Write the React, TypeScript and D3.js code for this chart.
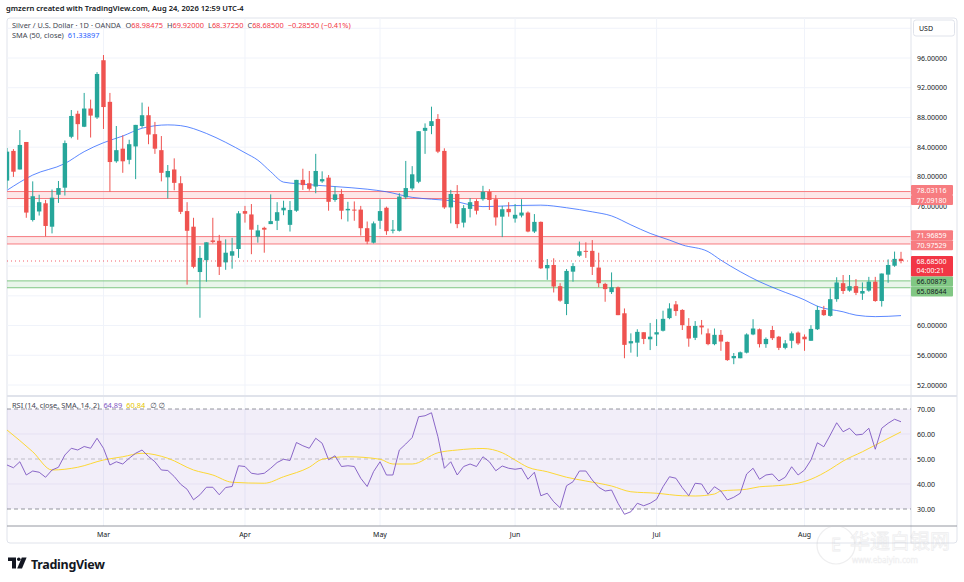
import { useEffect, useRef } from 'react';
import * as d3 from 'd3';

// Silver / USD daily, OANDA
const opens = [79.5, 83.5, 81.0, 84.7, 74.2, 75.35, 76.45, 73.3, 77.6, 78.55, 85.4, 88.5, 86.75, 89.2, 88.0, 95.7, 90.1, 82.1, 83.8, 82.3,
  84.1, 86.85, 88.3, 85.75, 83.6, 79.95, 81.0, 79.15, 75.4, 73.3, 67.2, 68.8, 71.45, 71.4, 68.5, 69.4, 70.3, 75.4, 74.95, 71.95,
  73.15, 73.65, 74.1, 75.5, 73.55, 75.45, 79.6, 79.15, 78.7, 79.4, 79.9, 76.9, 77.7, 75.5, 75.6, 75.6, 73.1, 71.15, 74.1, 75.85,
  72.8, 72.75, 77.25, 78.45, 79.35, 86.2, 86.85, 87.8, 83.5, 75.9, 77.7, 73.85, 75.7, 76.75, 77.0, 78.0, 77.0, 74.65, 75.7, 74.4,
  74.8, 75.2, 72.65, 73.95, 67.7, 68.15, 65.3, 62.9, 67.25, 69.4, 70.05, 70.05, 67.8, 65.6, 64.5, 65.15, 61.65, 57.6, 57.7, 59.1,
  58.15, 58.8, 59.3, 61.0, 62.85, 62.1, 59.95, 58.35, 60.0, 58.95, 57.5, 58.75, 57.8, 55.6, 55.6, 56.35, 58.8, 59.5, 57.5, 59.4,
  58.5, 57.0, 57.95, 59.05, 58.5, 57.95, 59.5, 62.1, 61.3, 63.55, 65.7, 64.7, 65.3, 64.3, 64.7, 65.9, 63.3, 66.85, 68.05, 68.98475];
const highs = [83.9, 83.75, 86.3, 84.7, 79.4, 77.6, 76.9, 78.3, 79.45, 84.9, 89.0, 88.9, 91.3, 90.4, 94.1, 96.4, 91.3, 86.85, 85.6, 85.0,
  87.0, 90.0, 89.45, 87.4, 85.5, 81.6, 82.5, 80.1, 76.6, 74.5, 70.7, 71.2, 74.5, 72.2, 71.6, 71.8, 75.4, 76.1, 76.35, 73.55,
  73.3, 77.65, 76.6, 76.8, 76.75, 79.6, 81.1, 80.8, 83.1, 80.75, 80.25, 78.7, 78.35, 76.65, 76.7, 76.1, 74.0, 74.0, 77.0, 76.0,
  74.2, 77.8, 82.15, 81.45, 86.15, 87.2, 89.45, 88.45, 83.85, 78.25, 78.9, 76.2, 77.15, 77.0, 78.8, 78.35, 77.55, 76.1, 76.6, 76.35,
  77.0, 75.35, 75.0, 74.0, 68.95, 69.05, 65.7, 67.6, 68.4, 71.3, 71.2, 71.5, 69.8, 65.75, 67.15, 65.25, 62.3, 58.95, 59.5, 59.1,
  60.35, 60.85, 62.0, 63.0, 63.3, 62.2, 61.0, 60.6, 60.75, 59.6, 59.6, 59.4, 57.85, 56.3, 56.5, 58.95, 60.85, 59.6, 58.4, 59.95,
  58.6, 58.05, 59.2, 59.2, 58.8, 60.05, 62.65, 62.65, 65.0, 66.5, 66.8, 66.8, 66.25, 65.8, 66.55, 66.55, 67.0, 68.9, 69.95, 69.92];
const lows = [78.4, 80.0, 81.0, 74.5, 74.0, 74.8, 72.0, 72.4, 76.5, 77.5, 85.2, 85.0, 86.7, 85.3, 87.8, 86.45, 78.0, 81.9, 80.55, 81.7,
  79.7, 86.6, 84.4, 83.1, 79.4, 77.1, 78.2, 75.0, 65.5, 67.7, 61.05, 65.9, 71.05, 66.8, 67.5, 67.65, 69.1, 73.85, 69.6, 71.15,
  69.8, 73.65, 72.85, 74.85, 72.65, 75.3, 78.25, 78.15, 77.8, 79.2, 75.45, 76.65, 74.3, 74.0, 74.1, 72.1, 70.95, 71.05, 73.0, 72.2,
  72.4, 72.65, 77.0, 78.2, 79.15, 83.1, 85.75, 83.2, 75.7, 73.75, 73.1, 73.2, 74.55, 74.95, 76.8, 75.55, 73.45, 71.9, 74.65, 73.85,
  74.55, 72.55, 72.45, 67.6, 66.15, 64.45, 63.2, 61.4, 65.9, 69.25, 69.1, 66.8, 65.15, 63.2, 64.25, 61.4, 55.6, 56.35, 55.8, 57.5,
  56.7, 57.25, 59.2, 60.85, 61.3, 59.4, 57.15, 58.05, 58.8, 57.35, 57.35, 56.6, 55.25, 54.8, 55.6, 56.25, 58.7, 57.05, 57.0, 58.05,
  56.7, 56.8, 56.95, 57.4, 56.6, 57.95, 59.4, 61.3, 61.2, 63.2, 64.25, 64.55, 64.1, 63.45, 64.55, 63.2, 62.55, 65.75, 67.9, 68.3725];
const closes = [83.4, 80.7, 84.3, 75.2, 77.4, 76.6, 73.4, 77.2, 78.5, 84.55, 88.2, 87.1, 89.2, 88.25, 93.85, 89.4, 82.0, 83.6, 82.1, 84.4,
  87.0, 88.3, 85.7, 83.8, 80.55, 80.8, 79.2, 75.3, 72.75, 67.9, 69.1, 71.2, 71.25, 67.9, 69.8, 70.0, 75.1, 75.05, 72.9, 72.8,
  72.9, 74.05, 75.25, 75.85, 75.55, 79.6, 78.9, 78.4, 80.8, 79.7, 76.65, 77.65, 75.45, 75.7, 75.5, 73.1, 71.3, 73.75, 75.4, 72.7,
  72.9, 77.35, 78.5, 80.35, 86.15, 86.6, 87.5, 83.4, 75.9, 77.7, 73.65, 75.8, 76.6, 75.45, 78.0, 76.9, 74.55, 75.65, 75.25, 74.9,
  75.2, 72.65, 73.95, 67.7, 68.15, 65.25, 63.35, 67.35, 68.0, 70.0, 69.95, 67.9, 65.7, 64.9, 65.15, 61.4, 57.4, 57.9, 59.15, 58.2,
  58.5, 59.1, 60.9, 62.3, 61.95, 60.05, 58.25, 59.95, 59.75, 57.5, 58.75, 57.85, 55.35, 55.9, 56.4, 58.8, 59.6, 57.5, 58.2, 58.3,
  57.0, 57.6, 58.95, 57.6, 58.15, 59.55, 62.1, 61.4, 63.55, 65.8, 64.65, 65.3, 64.4, 64.65, 65.9, 63.3, 67.0, 68.15, 68.9705, 68.685];

// SMA(50, close) read at these bars
const smaBars = [0, 4, 9, 12, 15, 18, 21, 25, 27, 31, 34, 37, 39, 41, 43, 45, 51, 56, 59, 63, 66, 69, 74, 79, 83, 87, 91, 94, 97, 100,
  103, 105, 109, 111, 114, 117, 120, 124, 126, 130, 132, 135, 139];
const smaValues = [78.2, 80.25, 81.8, 83.4, 84.6, 85.5, 86.55, 87.0, 86.9, 85.85, 84.65, 83.25, 82.25, 80.7, 79.3, 79.1, 78.7, 78.35, 78.0, 77.25,
  77.0, 76.8, 76.0, 76.15, 76.2, 75.85, 75.3, 74.75, 73.55, 72.4, 71.5, 70.85, 69.95, 68.8, 67.25, 65.9, 64.8, 63.45, 62.6, 61.85,
  61.4, 61.2, 61.33897];

const rsi = [47.6, 46.5, 48.9, 43.6, 45.2, 44.7, 42.7, 45.6, 46.7, 51.6, 54.3, 53.6, 55.0, 54.3, 58.3, 54.3, 47.6, 48.9, 48.0, 50.3,
  52.3, 53.6, 51.0, 48.9, 45.6, 45.4, 43.0, 39.9, 37.9, 33.7, 35.7, 38.7, 38.7, 35.7, 38.6, 39.0, 47.3, 47.0, 44.3, 43.9,
  44.3, 46.3, 48.6, 49.9, 49.4, 56.6, 55.3, 54.3, 58.3, 56.3, 49.7, 51.3, 47.0, 47.3, 47.0, 42.3, 39.0, 45.0, 48.9, 43.6,
  43.6, 53.6, 56.0, 58.6, 66.9, 67.3, 68.5, 58.9, 46.3, 48.9, 43.6, 47.0, 48.0, 47.0, 50.9, 48.9, 45.3, 47.2, 46.3, 45.9,
  46.3, 41.9, 44.7, 35.3, 36.3, 32.9, 30.5, 39.3, 40.9, 45.2, 45.2, 41.6, 38.7, 37.2, 37.6, 32.3, 27.9, 28.9, 32.3, 31.3,
  32.3, 33.9, 38.9, 42.9, 42.3, 38.5, 35.3, 40.3, 40.0, 35.9, 38.9, 37.2, 33.6, 34.7, 36.3, 44.0, 46.3, 41.9, 43.6, 44.0,
  41.2, 42.7, 46.9, 43.6, 45.6, 49.6, 56.5, 54.9, 59.6, 64.5, 60.9, 62.3, 59.6, 59.9, 62.3, 53.9, 62.3, 64.3, 65.9, 64.89];

// RSI-based SMA(14) read at these bars
const rsiSmaBars = [0, 4, 7, 11, 15, 18, 21, 25, 29, 32, 35, 40, 43, 47, 49, 53, 58, 60, 63, 67, 70, 74, 77, 79, 81, 84, 87, 90, 94, 97,
  101, 105, 107, 110, 111, 115, 117, 119, 123, 125, 128, 130, 133, 136, 139];
const rsiSmaValues = [61.6, 52.9, 45.6, 46.7, 49.6, 50.9, 52.3, 50.3, 45.6, 43.6, 40.7, 40.3, 42.9, 46.7, 49.9, 50.9, 49.9, 48.0, 48.0, 52.5,
  53.6, 54.2, 52.5, 49.6, 46.7, 44.9, 42.7, 41.2, 39.2, 36.9, 36.3, 35.3, 35.2, 36.0, 37.2, 37.9, 38.9, 39.2, 40.3, 41.9,
  45.9, 49.2, 52.9, 56.9, 60.84];

const priceTicks = [100, 96, 92, 88, 84, 80, 76, 72, 68, 64, 60, 56, 52];
const rsiTicks = [70, 60, 50, 40, 30];
const resistanceZones = [[78.03116, 77.09180], [71.96859, 70.97529]];
const supportZones = [[66.00879, 65.08644]];
const lastPrice = 68.685;
const countdown = '04:00:21';
const holidays = ['2026-04-03'];

const UP = '#26a69a', DOWN = '#ef5350';
const FONT = '"Noto Sans", "DejaVu Sans", sans-serif';

export default function App() {
  const svgRef = useRef<SVGSVGElement>(null);

  useEffect(() => {
    if (!svgRef.current) return;
    const svg = d3.select(svgRef.current);
    svg.selectAll('*').remove();

    const L = 7, T = 18, R = 957, B = 543, AX = 911;
    const paneBottom = 395, rsiTop = 397, rsiBottom = 526;

    // trading days Feb 9 – Aug 24 2026
    const days = d3.utcDay.range(new Date(Date.UTC(2026, 1, 9)), new Date(Date.UTC(2026, 7, 25)))
      .filter(d => d.getUTCDay() % 6 !== 0 && !holidays.includes(d3.utcFormat('%Y-%m-%d')(d)));
    const n = closes.length;

    const x = d3.scaleLinear().domain([0, n - 1]).range([7, 901]);
    const y = d3.scaleLinear().domain([52, 96]).range([385, 58]);
    const yr = d3.scaleLinear().domain([30, 70]).range([509, 409]);

    const monthStarts = days.map((d, i) => ({ d, i })).filter(({ d, i }) => i > 0 && d.getUTCMonth() !== days[i - 1].getUTCMonth());

    const defs = svg.append('defs');
    defs.append('clipPath').attr('id', 'pane').append('rect').attr('x', L).attr('y', T).attr('width', AX - L).attr('height', paneBottom - T);
    defs.append('clipPath').attr('id', 'rsiPane').append('rect').attr('x', L).attr('y', rsiTop).attr('width', AX - L).attr('height', rsiBottom - rsiTop);

    svg.append('rect').attr('width', 964).attr('height', 582).attr('fill', '#fff');

    // header
    svg.append('text').attr('x', 6).attr('y', 11).attr('font-family', FONT).attr('font-size', 7.6).attr('font-weight', 600)
      .attr('fill', '#131722').text('gmzern created with TradingView.com, Aug 24, 2026 12:59 UTC-4');

    svg.append('rect').attr('x', L).attr('y', T).attr('width', R - L).attr('height', B - T).attr('rx', 3)
      .attr('fill', '#fff').attr('stroke', '#e0e3eb');

    // grid
    const grid = svg.append('g').attr('stroke', '#f0f3fa').attr('stroke-width', 1);
    priceTicks.forEach(v => grid.append('line').attr('x1', L).attr('x2', AX).attr('y1', y(v)).attr('y2', y(v)));
    monthStarts.forEach(({ i }) => grid.append('line').attr('x1', x(i)).attr('x2', x(i)).attr('y1', T).attr('y2', rsiBottom));

    const pane = svg.append('g').attr('clip-path', 'url(#pane)');

    // zones
    const zone = (z: number[], line: string, fill: string) => {
      pane.append('rect').attr('x', L).attr('width', AX - L).attr('y', y(z[0])).attr('height', y(z[1]) - y(z[0])).attr('fill', fill);
      z.forEach(v => pane.append('line').attr('x1', L).attr('x2', AX).attr('y1', y(v)).attr('y2', y(v))
        .attr('stroke', line).attr('stroke-width', 1));
    };
    resistanceZones.forEach(z => zone(z, '#f77c80', 'rgba(242,54,69,0.12)'));
    supportZones.forEach(z => zone(z, '#81c784', 'rgba(76,175,80,0.12)'));

    // SMA 50
    const smaLine = d3.line<number>().x((_, k) => x(smaBars[k])).y(v => y(v)).curve(d3.curveMonotoneX);
    pane.append('path').datum(smaValues).attr('d', smaLine).attr('fill', 'none').attr('stroke', '#2962ff').attr('stroke-width', 0.9).attr('opacity', 0.85);

    // candles
    const bw = 4.4;
    d3.range(n).forEach(i => {
      const up = closes[i] >= opens[i];
      const c = up ? UP : DOWN;
      pane.append('line').attr('x1', x(i)).attr('x2', x(i)).attr('y1', y(highs[i])).attr('y2', y(lows[i]))
        .attr('stroke', c).attr('stroke-width', 1);
      const top = y(Math.max(opens[i], closes[i])), bot = y(Math.min(opens[i], closes[i]));
      pane.append('rect').attr('x', x(i) - bw / 2).attr('width', bw).attr('y', top).attr('height', Math.max(1, bot - top)).attr('fill', c);
    });

    // last price line
    pane.append('line').attr('x1', L).attr('x2', AX).attr('y1', y(lastPrice)).attr('y2', y(lastPrice))
      .attr('stroke', '#f23645').attr('stroke-width', 0.8).attr('stroke-dasharray', '1,3');

    // legend
    const leg = svg.append('text').attr('x', 12).attr('y', 28).attr('font-family', FONT).attr('font-size', 7.4).attr('fill', '#434651');
    leg.append('tspan').text('Silver / U.S. Dollar · 1D · OANDA');
    const ohlc = [['O', opens[n - 1]], ['H', highs[n - 1]], ['L', lows[n - 1]], ['C', closes[n - 1]]] as [string, number][];
    ohlc.forEach(([k, v], j) => {
      leg.append('tspan').attr('dx', j === 0 ? 5 : 4).text(k);
      leg.append('tspan').attr('fill', '#f23645').text(v.toFixed(5));
    });
    const chg = closes[n - 1] - closes[n - 2];
    const sign = chg < 0 ? '−' : '+';
    leg.append('tspan').attr('dx', 4).attr('fill', '#f23645')
      .text(`${sign}${Math.abs(chg).toFixed(5)} (${sign}${Math.abs(chg / closes[n - 2] * 100).toFixed(2)}%)`);
    const leg2 = svg.append('text').attr('x', 12).attr('y', 38).attr('font-family', FONT).attr('font-size', 7.4).attr('fill', '#434651');
    leg2.append('tspan').text('SMA (50, close)');
    leg2.append('tspan').attr('dx', 4).attr('fill', '#2962ff').text(smaValues[smaValues.length - 1].toFixed(5));

    // pane separator
    svg.append('line').attr('x1', L).attr('x2', R).attr('y1', 396).attr('y2', 396).attr('stroke', '#e0e3eb').attr('stroke-width', 2);

    // axis label boxes; the last-price box stays put, the others are pushed apart where they overlap
    type Box = { v: number; lines: string[]; fill: string; color: string; top: number; h: number; fixed: boolean };
    const boxes: Box[] = [];
    resistanceZones.flat().forEach(v => boxes.push({ v, lines: [v.toFixed(5)], fill: '#f77c80', color: '#fff', top: 0, h: 10, fixed: false }));
    supportZones.flat().forEach(v => boxes.push({ v, lines: [v.toFixed(5)], fill: '#81c784', color: '#131722', top: 0, h: 10, fixed: false }));
    boxes.push({ v: lastPrice, lines: [lastPrice.toFixed(5), countdown], fill: '#f23645', color: '#fff', top: 0, h: 20.5, fixed: true });
    boxes.forEach(b => { b.top = y(b.v) - 5; });
    boxes.sort((a, b) => a.top - b.top);
    for (let pass = 0; pass < 30; pass++) {
      for (let k = 1; k < boxes.length; k++) {
        const a = boxes[k - 1], b = boxes[k];
        const d = a.top + a.h - b.top;
        if (d <= 0) continue;
        if (a.fixed) b.top += d;
        else if (b.fixed) a.top -= d;
        else { a.top -= d / 2; b.top += d / 2; }
      }
    }

    // price axis (tick labels hidden where a box or the USD button sits on them)
    svg.append('line').attr('x1', AX).attr('x2', AX).attr('y1', T).attr('y2', B).attr('stroke', '#e0e3eb');
    const covered = (py: number) => py < 42 || boxes.some(b => Math.abs(py - (b.top + b.h / 2)) < b.h / 2 + 1);
    priceTicks.filter(v => !covered(y(v))).forEach(v => svg.append('text').attr('x', 917).attr('y', y(v)).attr('dominant-baseline', 'central')
      .attr('font-family', FONT).attr('font-size', 7).attr('fill', '#131722').text(v.toFixed(5)));
    svg.append('rect').attr('x', 913.5).attr('y', 20).attr('width', 41).attr('height', 16).attr('rx', 2.5)
      .attr('fill', '#fff').attr('stroke', '#e0e3eb');
    svg.append('text').attr('x', 919).attr('y', 28.5).attr('dominant-baseline', 'central').attr('font-family', FONT)
      .attr('font-size', 7).attr('fill', '#131722').text('USD');

    boxes.forEach(b => {
      svg.append('rect').attr('x', AX).attr('y', b.top).attr('width', 42).attr('height', b.h).attr('rx', 1).attr('fill', b.fill);
      b.lines.forEach((s, k) => svg.append('text').attr('x', 916.5).attr('y', b.top + 5 + k * 9.8).attr('dominant-baseline', 'central')
        .attr('font-family', FONT).attr('font-size', 7).attr('fill', b.color).text(s));
    });

    // RSI pane
    const rp = svg.append('g').attr('clip-path', 'url(#rsiPane)');
    rp.append('rect').attr('x', L).attr('width', AX - L).attr('y', yr(70)).attr('height', yr(30) - yr(70)).attr('fill', 'rgba(126,87,194,0.1)');
    [60, 40].forEach(v => rp.append('line').attr('x1', L).attr('x2', AX).attr('y1', yr(v)).attr('y2', yr(v)).attr('stroke', '#e6e1f3'));
    [70, 30].forEach(v => rp.append('line').attr('x1', L).attr('x2', AX).attr('y1', yr(v)).attr('y2', yr(v))
      .attr('stroke', '#787b86').attr('stroke-dasharray', '4,3').attr('stroke-width', 0.8));
    rp.append('line').attr('x1', L).attr('x2', AX).attr('y1', yr(50)).attr('y2', yr(50))
      .attr('stroke', 'rgba(120,123,134,0.55)').attr('stroke-dasharray', '4,3').attr('stroke-width', 0.8);
    const rsiSmaLine = d3.line<number>().x((_, k) => x(rsiSmaBars[k])).y(v => yr(v)).curve(d3.curveMonotoneX);
    rp.append('path').datum(rsiSmaValues).attr('d', rsiSmaLine).attr('fill', 'none').attr('stroke', '#fdd835').attr('stroke-width', 1);
    const rsiLine = d3.line<number>().x((_, i) => x(i)).y(v => yr(v));
    rp.append('path').datum(rsi).attr('d', rsiLine).attr('fill', 'none').attr('stroke', '#7e57c2').attr('stroke-width', 0.9);

    const rl = svg.append('text').attr('x', 12).attr('y', 408).attr('font-family', FONT).attr('font-size', 7.4).attr('fill', '#434651');
    rl.append('tspan').text('RSI (14, close, SMA, 14, 2)');
    rl.append('tspan').attr('dx', 4).attr('fill', '#7e57c2').text(rsi[n - 1].toFixed(2));
    rl.append('tspan').attr('dx', 4).attr('fill', '#e5c400').text(rsiSmaValues[rsiSmaValues.length - 1].toFixed(2));
    rl.append('tspan').attr('dx', 5).text('∅  ∅');

    rsiTicks.forEach(v => svg.append('text').attr('x', 917).attr('y', yr(v)).attr('dominant-baseline', 'central')
      .attr('font-family', FONT).attr('font-size', 7).attr('fill', '#131722').text(v.toFixed(2)));

    // time axis
    svg.append('line').attr('x1', L).attr('x2', R).attr('y1', rsiBottom).attr('y2', rsiBottom).attr('stroke', '#9598a1');
    monthStarts.forEach(({ d, i }) => svg.append('text').attr('x', x(i)).attr('y', 537).attr('text-anchor', 'middle')
      .attr('font-family', FONT).attr('font-size', 7).attr('fill', '#131722').text(d3.utcFormat('%b')(d)));

    // TradingView logo
    const logo = svg.append('g').attr('fill', '#131722');
    logo.append('path').attr('d', 'M8,557.5 H16 V568.5 H12 V561 H8 Z');
    logo.append('circle').attr('cx', 18.8).attr('cy', 559.3).attr('r', 1.8);
    logo.append('path').attr('d', 'M21.8,557.5 H26.6 L22,568.5 H17.2 Z');
    svg.append('text').attr('x', 31).attr('y', 568.5).attr('font-family', FONT).attr('font-size', 12.5).attr('font-weight', 700)
      .attr('fill', '#131722').attr('letter-spacing', -0.3).text('TradingView');

    // faint watermark
    const wm = svg.append('g').attr('opacity', 0.3);
    wm.append('circle').attr('cx', 836).attr('cy', 545).attr('r', 19).attr('fill', 'none').attr('stroke', '#c8c8cc').attr('stroke-width', 1.2);
    wm.append('text').attr('x', 836).attr('y', 551).attr('text-anchor', 'middle').attr('font-family', FONT).attr('font-size', 18)
      .attr('fill', 'none').attr('stroke', '#c8c8cc').attr('stroke-width', 0.8).text('E');
    wm.append('text').attr('x', 850).attr('y', 549).attr('font-family', '"Noto Sans CJK SC", sans-serif').attr('font-size', 20)
      .attr('fill', 'none').attr('stroke', '#c8c8cc').attr('stroke-width', 0.8).text('华通白银网');
    wm.append('text').attr('x', 852).attr('y', 563).attr('font-family', FONT).attr('font-size', 8)
      .attr('fill', 'none').attr('stroke', '#c8c8cc').attr('stroke-width', 0.5).text('www.ebaiyin.com');
  }, []);

  return <svg ref={svgRef} width={964} height={582} viewBox="0 0 964 582"
    style={{ position: 'absolute', left: 0, top: 0, display: 'block' }} />;
}
